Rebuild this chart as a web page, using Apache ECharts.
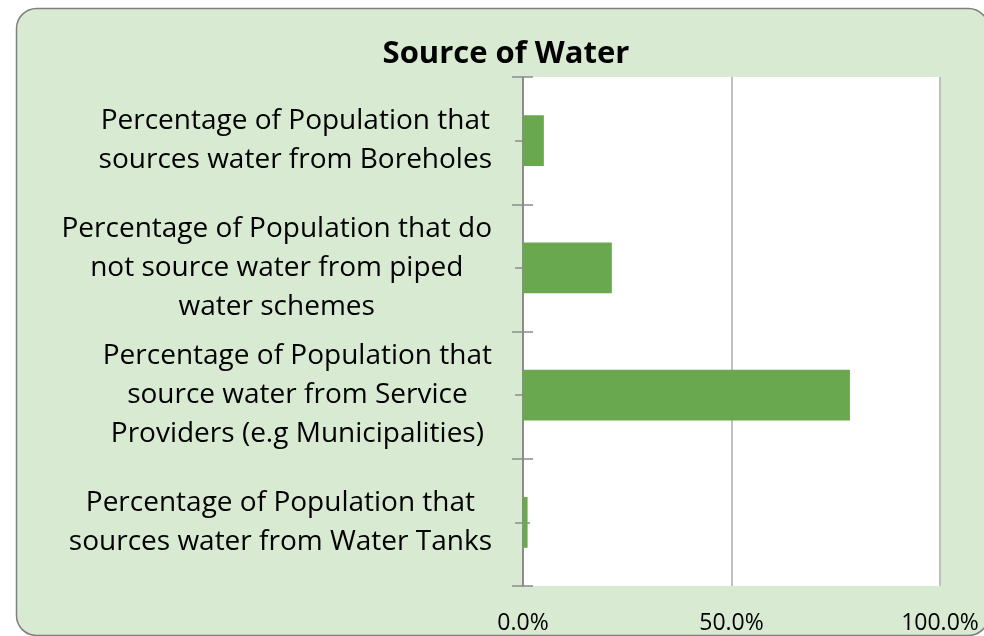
<!DOCTYPE html>
<html>
<head>
<meta charset="utf-8">
<script src="https://cdn.jsdelivr.net/npm/echarts@6/dist/echarts.min.js"></script>
<style>
  html, body { margin: 0; padding: 0; background: #ffffff; }
  #chart { width: 984px; height: 636px; }
</style>
</head>
<body>
<div id="chart"></div>
<script>
// Water source categories, listed top to bottom
const categories = [
  'Percentage of Population that\nsources water from Boreholes',
  'Percentage of Population that do\nnot source water from piped\nwater schemes',
  'Percentage of Population that\nsource water from Service\nProviders (e.g Municipalities)',
  'Percentage of Population that\nsources water from Water Tanks'
];
// Share of population, in percent
const shares = [5.0, 21.3, 78.4, 1.1];
// Value-axis ticks (percent)
const xTicks = [0, 50, 100];

const chartTitle = 'Source of Water';
const font = '"Open Sans", "Noto Sans", sans-serif';
const axisGray = '#8c8c8c';

const chart = echarts.init(document.getElementById('chart'), null, { renderer: 'canvas' });

// Category label: lines centred within a block right-aligned to the axis
function catLabel(v) {
  return v.split('\n').map(l => '{c|' + l + '}').join('\n');
}

function catAxis(extra) {
  return Object.assign({
    type: 'category',
    data: categories,
    inverse: true,
    position: 'left',
    axisLine: { show: false },
    axisLabel: { show: false },
    splitLine: { show: false }
  }, extra);
}

chart.setOption({
  backgroundColor: '#ffffff',
  animation: false,
  graphic: [{
    type: 'rect',
    z: -100,
    silent: true,
    shape: { x: 16.5, y: 8.5, width: 972, height: 627, r: 20 },
    style: { fill: '#d9ead3', stroke: '#7f7f7f', lineWidth: 1.5 }
  }, {
    type: 'text',
    z: 10,
    silent: true,
    x: 506, y: 54,
    style: {
      text: chartTitle,
      font: 'bold 31px ' + font,
      fill: '#000000',
      textAlign: 'center',
      textVerticalAlign: 'middle'
    }
  }],
  grid: {
    left: 523, right: 44, top: 77, bottom: 50,
    show: true, backgroundColor: '#ffffff', borderWidth: 0
  },
  xAxis: {
    type: 'value',
    min: xTicks[0],
    max: xTicks[xTicks.length - 1],
    interval: xTicks[1] - xTicks[0],
    axisLine: { show: false },
    axisTick: { show: false },
    axisLabel: {
      margin: 26,
      fontFamily: font,
      fontSize: 23,
      color: '#000000',
      formatter: v => v.toFixed(1) + '%'
    },
    splitLine: { lineStyle: { color: '#bfbfbf', width: 2 } }
  },
  yAxis: [
    // main axis: line, labels and outer boundary ticks
    catAxis({
      axisLine: { show: true, lineStyle: { color: axisGray, width: 2 } },
      axisTick: { show: true, length: 11, lineStyle: { color: axisGray, width: 1.5 } },
      axisLabel: {
        show: true,
        margin: 31,
        align: 'right',
        formatter: catLabel,
        rich: {
          c: {
            align: 'center',
            fontFamily: font,
            fontSize: 28,
            lineHeight: 39,
            color: '#000000'
          }
        }
      }
    }),
    // inner boundary ticks
    catAxis({
      axisTick: { show: true, inside: true, length: 10, lineStyle: { color: axisGray, width: 1.5 } }
    }),
    // outer centre ticks
    catAxis({
      axisTick: { show: true, alignWithLabel: true, length: 8, lineStyle: { color: axisGray, width: 1.5 } }
    }),
    // inner centre ticks
    catAxis({
      axisTick: { show: true, alignWithLabel: true, inside: true, length: 7, lineStyle: { color: axisGray, width: 1.5 } }
    })
  ],
  series: [{
    type: 'bar',
    data: shares,
    yAxisIndex: 0,
    barCategoryGap: '60%',
    itemStyle: { color: '#6aa84f' },
    z: 1
  }]
});
</script>
</body>
</html>
